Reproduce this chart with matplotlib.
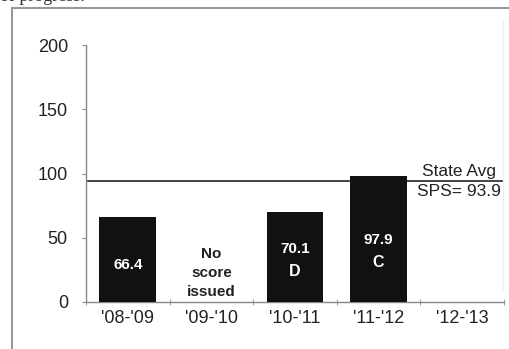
import matplotlib
matplotlib.use("Agg")
import matplotlib.pyplot as plt
from matplotlib.lines import Line2D

# DATA
years = ["'08-'09", "'09-'10", "'10-'11", "'11-'12", "'12-'13"]
scores = [66.4, None, 70.1, 97.9, None]
grades = ["", "", "D", "C", ""]
state_avg = 93.9
y_ticks = [0, 50, 100, 150, 200]

plt.rcParams["font.family"] = ["Liberation Sans", "DejaVu Sans"]

fig = plt.figure(figsize=(5.1, 3.49), dpi=100)
ax = fig.add_axes([0.1686, 0.1347, 0.8196, 0.7363])

x = list(range(len(years)))
heights = [s if s is not None else 0 for s in scores]
ax.bar(x, heights, width=0.68, color="#111111", zorder=3)

# labels inside bars
for i, s in enumerate(scores):
    if s is None:
        continue
    if grades[i]:
        top = min(s / 2 + 6, 48)
        ax.text(i, top, f"{s:.1f}", color="white", ha="center", va="center",
                fontsize=11, fontweight="bold", zorder=4)
        ax.text(i, top - 17, grades[i], color="white", ha="center", va="center",
                fontsize=11.5, fontweight="bold", zorder=4)
    else:
        ax.text(i, s / 2 - 4.4, f"{s:.1f}", color="white", ha="center", va="center",
                fontsize=11, fontweight="bold", zorder=4)

ax.text(1, 22.5, "No\nscore\nissued", ha="center", va="center", fontsize=11,
        fontweight="bold", color="#222222", linespacing=1.45)

# state average
ax.axhline(state_avg, color="#444444", lw=1.4, zorder=2)
ax.text(3.96, state_avg + 1.5, "State Avg", ha="center", va="bottom", fontsize=12.5, color="#222222")
ax.text(3.96, state_avg - 2.0, "SPS= 93.9", ha="center", va="top", fontsize=12.5, color="#222222")

ax.set_xlim(-0.5, len(years) - 0.5)
ax.set_ylim(0, 200)
ax.set_yticks(y_ticks)
ax.set_xticks(x)
ax.set_xticklabels(years)
ax.set_xticks([i - 0.5 for i in range(len(years) + 1)], minor=True)
ax.tick_params(axis="x", which="major", length=0, pad=6, labelsize=13, colors="#222222")
ax.tick_params(axis="x", which="minor", length=4, direction="inout", color="#888888")
ax.tick_params(axis="y", length=3, labelsize=13, colors="#222222", pad=10)
ax.tick_params(axis="y", color="#888888")

for side in ["top", "right"]:
    ax.spines[side].set_visible(False)
for side in ["left", "bottom"]:
    ax.spines[side].set_color("#888888")
    ax.spines[side].set_linewidth(1.0)

# page frame
fig.add_artist(Line2D([12 / 510, 12 / 510], [0, 1 - 8 / 349], color="#999999", lw=1.5))
fig.add_artist(Line2D([12 / 510, 1], [1 - 8 / 349, 1 - 8 / 349], color="#999999", lw=1.5))
fig.add_artist(Line2D([503 / 510, 503 / 510], [1 - 290 / 349, 1 - 20 / 349], color="#eeeeee", lw=1.0))
fig.text(0.0, 1.012, "of progress.", family="Liberation Serif", fontsize=13, va="center", color="#333333")

fig.savefig("out.png", dpi=100)
